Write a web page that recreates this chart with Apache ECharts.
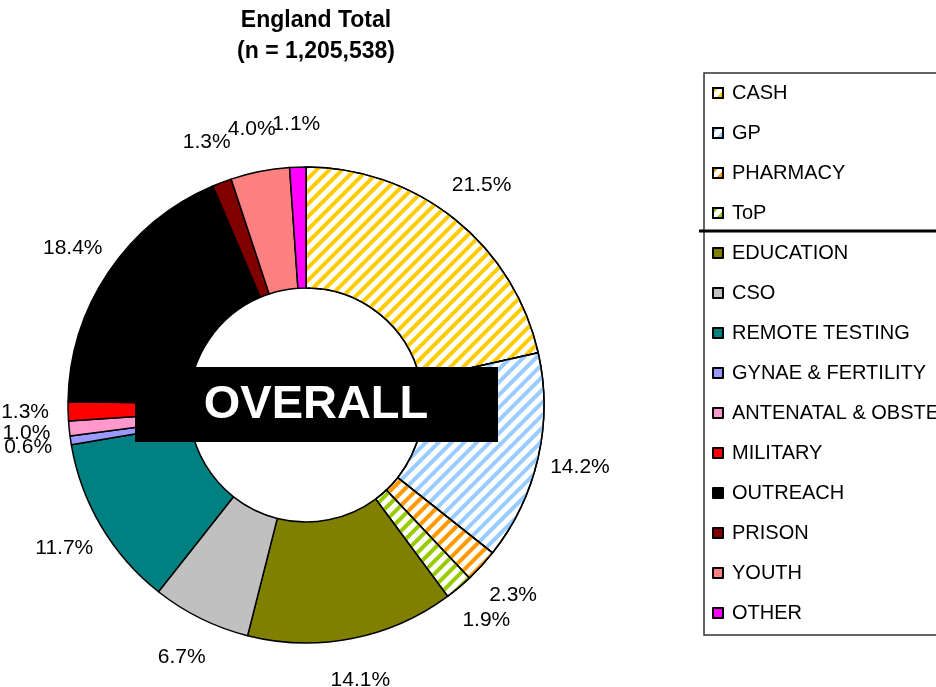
<!DOCTYPE html>
<html>
<head>
<meta charset="utf-8">
<script src="https://cdn.jsdelivr.net/npm/echarts@6/dist/echarts.min.js"></script>
<style>
  html, body { margin: 0; padding: 0; background: #fff; }
  #main { width: 936px; height: 687px; }
</style>
</head>
<body>
<div id="main"></div>
<script>
// categories, clockwise from 12 o'clock
const categories = ['CASH', 'GP', 'PHARMACY', 'ToP', 'EDUCATION', 'CSO', 'REMOTE TESTING',
  'GYNAE & FERTILITY', 'ANTENATAL & OBSTETRICS', 'MILITARY', 'OUTREACH', 'PRISON', 'YOUTH', 'OTHER']
// share of tests, %
const shares = [21.5, 14.2, 2.3, 1.9, 14.1, 6.7, 11.7, 0.6, 1.0, 1.3, 18.4, 1.3, 4.0, 1.1]
const colors = ['#FFCC00', '#99CCFF', '#FF9900', '#99CC00', '#808000', '#C0C0C0', '#008080',
  '#9999FF', '#FF99CC', '#FF0000', '#000000', '#800000', '#FF8080', '#FF00FF']
// the first four are drawn hatched
const hatched = [true, true, true, true, false, false, false, false, false, false, false, false, false, false]

const chart = echarts.init(document.getElementById('main'))

const pieData = categories.map((name, i) => {
  const item = { name: name, value: shares[i], itemStyle: { color: colors[i] } }
  if (hatched[i]) {
    item.itemStyle = {
      color: '#ffffff',
      decal: {
        symbol: 'rect',
        symbolSize: 1,
        dashArrayX: [1, 0],
        dashArrayY: [4, 5],
        rotation: -Math.PI / 4,
        color: colors[i],
      },
    }
  }
  return item
})

const labelData = categories.map((name, i) => ({ name: name, value: shares[i] }))

const option = {
  animation: false,
  backgroundColor: '#fff',
  title: {
    text: 'England Total\n(n = 1,205,538)',
    left: 311,
    textAlign: 'center',
    top: 0,
    textStyle: {
      fontFamily: 'Liberation Sans, Arial, sans-serif',
      fontSize: 23,
      fontWeight: 'bold',
      lineHeight: 31,
      color: '#000',
    },
  },
  legend: {
    orient: 'vertical',
    left: 704,
    top: 73,
    data: categories,
    itemWidth: 10,
    itemHeight: 10,
    itemGap: 20,
    padding: [10, 10, 12, 8],
    borderColor: '#333',
    borderWidth: 1.5,
    icon: 'rect',
    selectedMode: false,
    textStyle: {
      fontFamily: 'Liberation Sans, Arial, sans-serif',
      fontSize: 20,
      lineHeight: 20,
      color: '#000',
      padding: [0, 0, 0, 4],
    },
  },
  series: [
    {
      name: 'England Total',
      type: 'pie',
      center: [306, 405],
      radius: [117, 238],
      startAngle: 90,
      clockwise: true,
      avoidLabelOverlap: false,
      label: { show: false },
      labelLine: { show: false },
      emphasis: { disabled: true },
      itemStyle: { borderColor: '#000', borderWidth: 1.5 },
      data: pieData,
    },
    {
      // invisible ring that only carries the percentage labels
      name: 'labels',
      type: 'pie',
      center: [306, 405],
      radius: [238, 318],
      startAngle: 90,
      clockwise: true,
      silent: true,
      avoidLabelOverlap: false,
      emphasis: { disabled: true },
      itemStyle: { color: 'rgba(0,0,0,0)', borderWidth: 0 },
      label: {
        show: true,
        position: 'inside',
        overflow: 'none',
        color: '#000',
        fontFamily: 'Liberation Sans, Arial, sans-serif',
        fontSize: 21,
        formatter: (p) => p.value.toFixed(1) + '%',
      },
      labelLayout: { hideOverlap: false },
      labelLine: { show: false },
      data: labelData,
    },
  ],
  graphic: [
    {
      type: 'line',
      z: 100,
      shape: { x1: 699, y1: 231, x2: 936, y2: 231 },
      style: { stroke: '#000', lineWidth: 3 },
    },
    {
      type: 'rect',
      z: 100,
      shape: { x: 135, y: 367, width: 363, height: 75 },
      style: { fill: '#000' },
    },
    {
      type: 'text',
      z: 101,
      x: 316,
      y: 405,
      style: {
        text: 'OVERALL',
        fill: '#fff',
        font: 'bold 47px Liberation Sans, Arial, sans-serif',
        align: 'center',
        verticalAlign: 'middle',
      },
    },
  ],
}

chart.setOption(option)
</script>
</body>
</html>
